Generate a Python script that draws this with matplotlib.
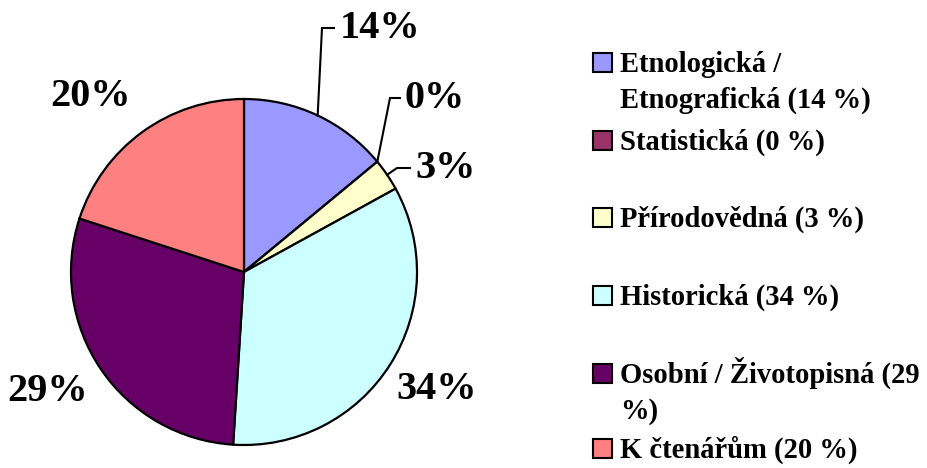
import numpy as np
import matplotlib
matplotlib.use("Agg")
import matplotlib.pyplot as plt
from matplotlib.patches import Rectangle

# data
categories = ["Etnologická /\nEtnografická (14 %)", "Statistická (0 %)", "Přírodovědná (3 %)",
              "Historická (34 %)", "Osobní / Životopisná (29\n%)", "K čtenářům (20 %)"]
shares = [14, 0, 3, 34, 29, 20]
pct_labels = ["14%", "0%", "3%", "34%", "29%", "20%"]
colors = ["#9999FF", "#993366", "#FFFFCC", "#CCFFFF", "#660066", "#FF8080"]

plt.rcParams["font.family"] = ["Liberation Serif", "DejaVu Serif"]
plt.rcParams["font.weight"] = "bold"

W, H = 928, 468
fig = plt.figure(figsize=(W / 100, H / 100), dpi=100)
ax = fig.add_axes([0, 0, 1, 1])

cx, cy, r = 244, H - 272, 173
wedges, _ = ax.pie(shares, colors=colors, startangle=90, counterclock=False,
                   center=(cx, cy), radius=r,
                   wedgeprops=dict(edgecolor="black", linewidth=1.6))
ax.set_xlim(0, W)
ax.set_ylim(0, H)
ax.set_aspect("equal")
ax.axis("off")

# label placement (image pixel coords, y from top): text anchor + optional leader elbow
label_pos = [(340, 29), (405, 98), (415, 169), (437, 390), (48, 392), (91, 96)]
elbows = [(322, 28), (390, 98), (397, 168), None, None, None]
leader_ends = [(334, 28), (400, 98), (410, 168), None, None, None]

for i, w in enumerate(wedges):
    tx, ty = label_pos[i]
    if elbows[i] is not None:
        if shares[i] == 0:
            ang = np.deg2rad(w.theta1)
        else:
            ang = np.deg2rad((w.theta1 + w.theta2) / 2)
        sx, sy = cx + r * np.cos(ang), cy + r * np.sin(ang)
        ex, ey = elbows[i]
        fx, fy = leader_ends[i]
        ax.plot([sx, ex, fx], [sy, H - ey, H - fy], color="black", lw=1.5,
                solid_joinstyle="miter")
        ax.text(tx, H - ty, pct_labels[i], fontsize=29, ha="left", va="center")
    else:
        ax.text(tx, H - ty, pct_labels[i], fontsize=29, ha="center", va="center")

# legend drawn by hand to keep Excel's uneven spacing
baselines = [72, 150, 227, 305, 383, 458]
for i, lab in enumerate(categories):
    b = baselines[i]
    ax.add_patch(Rectangle((593, H - b), 19, 19, facecolor=colors[i],
                           edgecolor="black", lw=1.5))
    lines = lab.split("\n")
    for j, line in enumerate(lines):
        ax.text(620, H - b - j * 36, line, fontsize=20.6, ha="left", va="baseline")

fig.savefig("out.png", dpi=100)
